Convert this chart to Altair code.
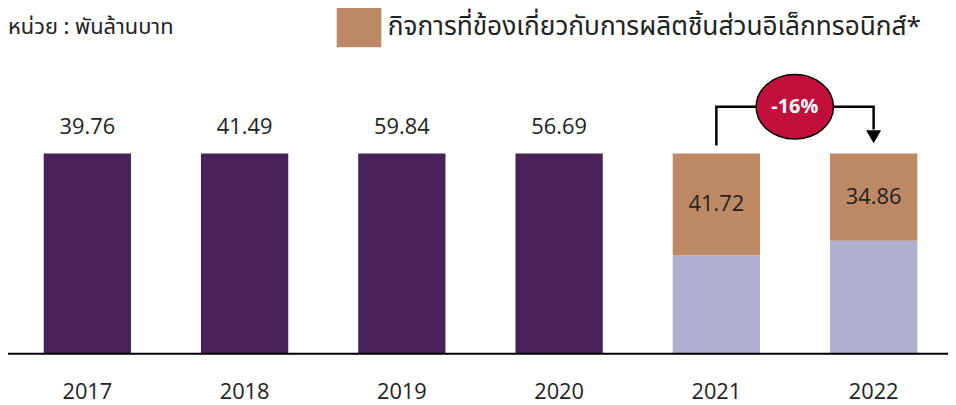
import altair as alt
import pandas as pd

# ---- data ----
years = ["2017", "2018", "2019", "2020", "2021", "2022"]
total_values = [39.76, 41.49, 59.84, 56.69]          # 2017-2020 (พันล้านบาท)
electronics_values = [41.72, 34.86]                  # 2021-2022 (พันล้านบาท)
# drawn bar heights (all bars are drawn the same height in the original)
bar_height = [100, 100, 100, 100, 100, 100]
# drawn share of the 2021 / 2022 bars taken by the electronics segment
electronics_share = [51.0, 43.6]

legend_label = "กิจการที่ข้องเกี่ยวกับการผลิตชิ้นส่วนอิเล็กทรอนิกส์*"
unit_label = "หน่วย : พันล้านบาท"
seg_total = "รวม"
seg_other = "อื่นๆ"

PURPLE = "#472157"
LAVENDER = "#AFAFCF"
TAN = "#BE8A65"
CRIMSON = "#C20E3A"
NUM_FONT = "Open Sans"
THAI_FONT = "Noto Sans Thai, Noto Sans Thai Looped, Loma, Garuda, Noto Sans, sans-serif"

rows = []
for i, y in enumerate(years[:4]):
    rows.append(dict(year=y, seg=seg_total, lo=0, hi=bar_height[i]))
for j, y in enumerate(years[4:]):
    h = bar_height[4 + j]
    e = electronics_share[j]
    rows.append(dict(year=y, seg=seg_other, lo=0, hi=h - e))
    rows.append(dict(year=y, seg=legend_label, lo=h - e, hi=h))
segments = pd.DataFrame(rows)

top_labels = pd.DataFrame({
    "year": years[:4],
    "y": bar_height[:4],
    "label": [f"{v:.2f}" for v in total_values],
})
seg_labels = pd.DataFrame({
    "year": years[4:],
    "y": [bar_height[4 + j] - electronics_share[j] / 2 for j in range(2)],
    "label": [f"{v:.2f}" for v in electronics_values],
})

change = (electronics_values[1] - electronics_values[0]) / electronics_values[0]
change_label = f"{change * 100:.0f}%"

bracket = pd.DataFrame({
    "year": ["2021", "2021", "2022", "2022"],
    "y": [104, 123.3, 123.3, 112],
    "o": [0, 1, 2, 3],
})

x_scale = alt.Scale(domain=years, range=[36, 917], paddingInner=0.445, paddingOuter=0, round=False)
y_scale = alt.Scale(domain=[0, 171.8], nice=False, zero=True)

x_enc = alt.X("year:N", scale=x_scale,
              axis=alt.Axis(title=None, ticks=False, domain=False, labelAngle=0,
                            labelFont=NUM_FONT, labelFontSize=22, labelColor="#222222",
                            labelBaseline="middle", labelPadding=38, grid=False))

bars = alt.Chart(segments).mark_bar().encode(
    x=x_enc,
    y=alt.Y("lo:Q", scale=y_scale, axis=None),
    y2="hi:Q",
    color=alt.Color(
        "seg:N",
        scale=alt.Scale(domain=[seg_total, seg_other, legend_label],
                        range=[PURPLE, LAVENDER, TAN]),
        legend=alt.Legend(
            title=None, values=[legend_label], orient="none", legendX=334, legendY=-2,
            symbolType="M-1.125,-1H1.125V1H-1.125Z", symbolSize=1600,
            symbolStrokeWidth=0, symbolOpacity=1, labelFont=THAI_FONT,
            labelFontSize=26.5, labelColor="#222222", labelOffset=9,
            labelLimit=800, padding=0,
        ),
    ),
)

top_text = alt.Chart(top_labels).mark_text(
    font=NUM_FONT, fontSize=22, color="#222222", dy=-27, baseline="middle"
).encode(x=alt.X("year:N", scale=x_scale), y=alt.Y("y:Q", scale=y_scale), text="label:N")

seg_text = alt.Chart(seg_labels).mark_text(
    font=NUM_FONT, fontSize=22, color="#222222", baseline="middle"
).encode(x=alt.X("year:N", scale=x_scale), y=alt.Y("y:Q", scale=y_scale), text="label:N")

baseline_rule = alt.Chart(pd.DataFrame({"v": [0]})).mark_rule(
    color="#000000", strokeWidth=2
).encode(y=alt.Y("v:Q", scale=y_scale), x=alt.value(0), x2=alt.value(948))

bracket_line = alt.Chart(bracket).mark_line(color="#000000", strokeWidth=2.5).encode(
    x=alt.X("year:N", scale=x_scale), y=alt.Y("y:Q", scale=y_scale), order="o:Q"
)

arrow = alt.Chart(pd.DataFrame({"year": ["2022"], "y": [108.3]})).mark_point(
    shape="triangle-down", filled=True, size=230, color="#000000", opacity=1
).encode(x=alt.X("year:N", scale=x_scale), y=alt.Y("y:Q", scale=y_scale))

bubble_df = pd.DataFrame({"y": [123.3], "label": [change_label]})
bubble = alt.Chart(bubble_df).mark_point(
    shape="M-1.2,0A1.2,1 0 1,1 1.2,0A1.2,1 0 1,1 -1.2,0Z",
    filled=True, size=4225, fill=CRIMSON, stroke="#000000", strokeWidth=1.5, opacity=1,
    fillOpacity=1,
).encode(x=alt.value(793.5), y=alt.Y("y:Q", scale=y_scale))

bubble_text = alt.Chart(bubble_df).mark_text(
    font=NUM_FONT, fontSize=20, fontWeight="bold", color="#FFFFFF", baseline="middle"
).encode(x=alt.value(793.5), y=alt.Y("y:Q", scale=y_scale), text="label:N")

unit_text = alt.Chart(pd.DataFrame({"t": [unit_label]})).mark_text(
    font=THAI_FONT, fontSize=22, color="#222222", align="left", baseline="middle"
).encode(x=alt.value(0), y=alt.value(18), text="t:N")

chart = alt.layer(
    bars, baseline_rule, top_text, seg_text, bracket_line, arrow, bubble, bubble_text, unit_text
).properties(
    width=940, height=347,
    autosize=alt.AutoSizeParams(type="none"),
    padding={"left": 0, "top": 0, "right": 8, "bottom": 50},
).configure_view(stroke=None)

chart.save("out.html", embed_options={"renderer": "svg", "actions": False})
